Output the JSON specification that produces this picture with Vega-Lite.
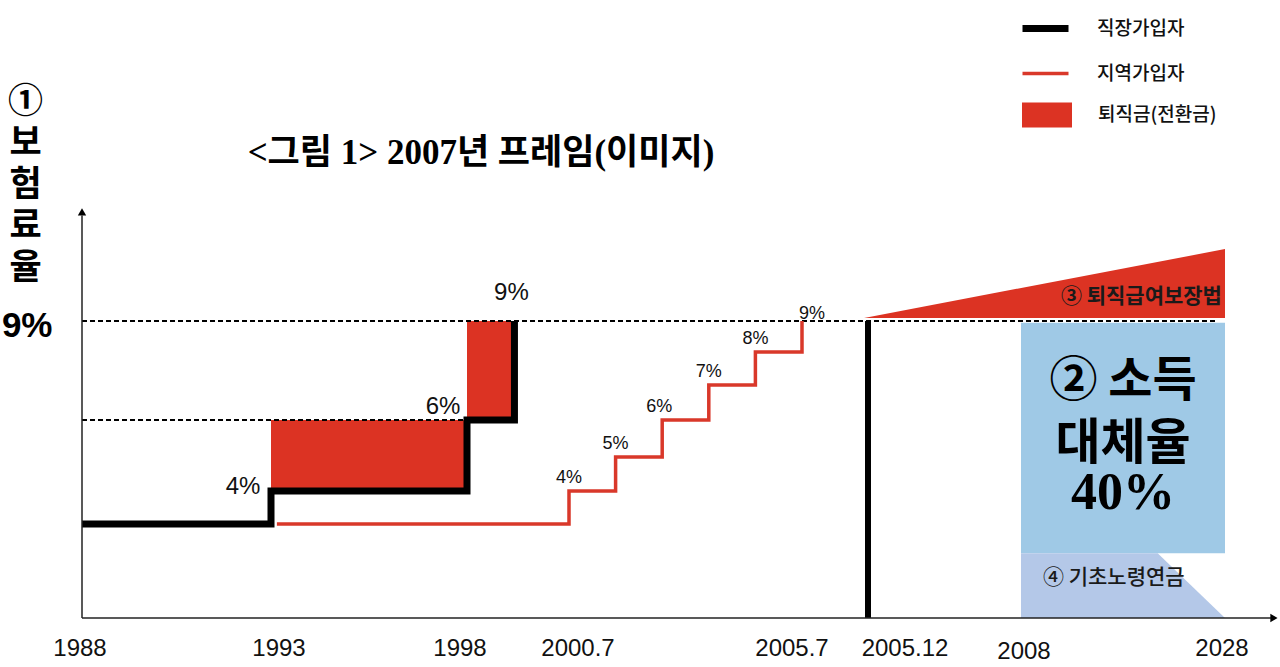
{
  "$schema": "https://vega.github.io/schema/vega-lite/v6.json",
  "width": 1198,
  "height": 618,
  "autosize": {"type": "none"},
  "padding": {"left": 82, "top": 0, "right": 0, "bottom": 49},
  "background": "#ffffff",
  "config": {"view": {"stroke": null}},
  "title": {
    "text": "<그림 1> 2007년 프레임(이미지)",
    "orient": "top",
    "anchor": "middle",
    "frame": "group",
    "font": "Liberation Serif, Noto Sans CJK KR",
    "fontSize": 35,
    "fontWeight": "bold",
    "color": "#000000",
    "offset": 0,
    "baseline": "middle",
    "dx": -200,
    "dy": 188
  },
  "data": {"values": [{}]},
  "datasets": {
    "employee": [
      {"year": 1988, "rate": 3, "order": 1, "series": "직장가입자"},
      {"year": 1993, "rate": 3, "order": 2, "series": "직장가입자"},
      {"year": 1993, "rate": 4, "order": 3, "series": "직장가입자"},
      {"year": 1998, "rate": 4, "order": 4, "series": "직장가입자"},
      {"year": 1998, "rate": 6, "order": 5, "series": "직장가입자"},
      {"year": 1999.2, "rate": 6, "order": 6, "series": "직장가입자"},
      {"year": 1999.2, "rate": 9, "order": 7, "series": "직장가입자"}
    ],
    "regional": [
      {"year": 1993.15, "rate": 3, "order": 1, "series": "지역가입자"},
      {"year": 2000.58, "rate": 3, "order": 2, "series": "지역가입자"},
      {"year": 2000.58, "rate": 4, "order": 3, "series": "지역가입자"},
      {"year": 2001.58, "rate": 4, "order": 4, "series": "지역가입자"},
      {"year": 2001.58, "rate": 5, "order": 5, "series": "지역가입자"},
      {"year": 2002.58, "rate": 5, "order": 6, "series": "지역가입자"},
      {"year": 2002.58, "rate": 6, "order": 7, "series": "지역가입자"},
      {"year": 2003.58, "rate": 6, "order": 8, "series": "지역가입자"},
      {"year": 2003.58, "rate": 7, "order": 9, "series": "지역가입자"},
      {"year": 2004.58, "rate": 7, "order": 10, "series": "지역가입자"},
      {"year": 2004.58, "rate": 8, "order": 11, "series": "지역가입자"},
      {"year": 2005.58, "rate": 8, "order": 12, "series": "지역가입자"},
      {"year": 2005.58, "rate": 9, "order": 13, "series": "지역가입자"}
    ],
    "severance": [
      {"year": 1993, "year2": 1998, "rate": 4, "rate2": 6, "kind": "퇴직금(전환금)"},
      {"year": 1998, "year2": 1999.2, "rate": 6, "rate2": 9, "kind": "퇴직금(전환금)"}
    ],
    "empLabels": [
      {"year": 1993, "rate": 4, "label": "4%"},
      {"year": 1998, "rate": 6, "label": "6%"},
      {"year": 1999.2, "rate": 9, "label": "9%"}
    ],
    "regLabels": [
      {"year": 2000.58, "rate": 4, "label": "4%"},
      {"year": 2001.58, "rate": 5, "label": "5%"},
      {"year": 2002.58, "rate": 6, "label": "6%"},
      {"year": 2003.58, "rate": 7, "label": "7%"},
      {"year": 2004.58, "rate": 8, "label": "8%"},
      {"year": 2005.58, "rate": 9, "label": "9%"}
    ],
    "xLabels": [
      {"year": 1988, "label": "1988"},
      {"year": 1993, "label": "1993"},
      {"year": 1998, "label": "1998"},
      {"year": 2000.58, "label": "2000.7"},
      {"year": 2005.58, "label": "2005.7"},
      {"year": 2005.92, "label": "2005.12"},
      {"year": 2008, "label": "2008"},
      {"year": 2028, "label": "2028"}
    ],
    "retirementAct": [
      {"year": 2005.9, "rate": 9.1, "base": 9.1},
      {"year": 2028, "rate": 11.32, "base": 9.1}
    ],
    "basicPension": [
      {"year": 2008, "rate": 2.07},
      {"year": 2021.4, "rate": 2.07},
      {"year": 2028, "rate": 0}
    ]
  },
  "encoding": {
    "x": {
      "type": "quantitative",
      "scale": {
        "domain": [1988, 1993, 1998, 2000.58, 2005.58, 2005.92, 2008, 2028],
        "range": [0, 189, 385, 487, 720, 786, 939, 1143],
        "nice": false,
        "zero": false
      },
      "axis": null
    },
    "y": {
      "type": "quantitative",
      "scale": {
        "domain": [0, 3, 4, 5, 6, 7, 8, 9],
        "range": [618, 524, 491, 457, 420, 385, 352, 321],
        "nice": false,
        "zero": false
      },
      "axis": {
        "values": [9],
        "labelExpr": "'9%'",
        "domain": false,
        "ticks": false,
        "grid": false,
        "labelFont": "Liberation Sans",
        "labelFontSize": 35,
        "labelFontWeight": "bold",
        "labelColor": "#000000",
        "labelPadding": 30,
        "labelOffset": 4,
        "title": ["①", "보", "험", "료", "율"],
        "titleAngle": 0,
        "titleX": -57,
        "titleY": 84,
        "titleAlign": "center",
        "titleBaseline": "top",
        "titleFont": "Noto Sans CJK KR",
        "titleFontSize": 35,
        "titleFontWeight": "bold",
        "titleLineHeight": 41.5,
        "titleColor": "#000000"
      }
    }
  },
  "layer": [
    {
      "data": {"name": "severance"},
      "mark": {"type": "rect", "opacity": 1},
      "encoding": {
        "x": {"field": "year"},
        "x2": {"field": "year2"},
        "y": {"field": "rate"},
        "y2": {"field": "rate2"},
        "fill": {
          "field": "kind",
          "type": "nominal",
          "scale": {"domain": ["퇴직금(전환금)"], "range": ["#dc3323"]},
          "legend": {
            "orient": "none",
            "legendX": 940,
            "legendY": 90,
            "title": null,
            "padding": 0,
            "symbolType": "M-1,-0.5H1V0.5H-1Z",
            "symbolSize": 2500,
            "symbolStrokeWidth": 0,
            "symbolOpacity": 1,
            "labelFont": "Noto Sans CJK KR",
            "labelFontSize": 19,
            "labelFontWeight": 500,
            "labelColor": "#111111",
            "labelOffset": 26
          }
        }
      }
    },
    {
      "mark": {"type": "rule", "strokeDash": [5, 3], "strokeWidth": 2, "color": "#000000"},
      "encoding": {
        "x": {"datum": 1988},
        "x2": {"datum": 2027.3},
        "y": {"datum": 9}
      }
    },
    {
      "mark": {"type": "rule", "strokeDash": [5, 3], "strokeWidth": 2, "color": "#000000"},
      "encoding": {
        "x": {"datum": 1988},
        "x2": {"datum": 1998},
        "y": {"datum": 6}
      }
    },
    {
      "data": {"name": "retirementAct"},
      "mark": {"type": "area", "color": "#dc3323", "opacity": 1},
      "encoding": {
        "x": {"field": "year"},
        "y": {"field": "rate"},
        "y2": {"field": "base"}
      }
    },
    {
      "mark": {"type": "rect", "color": "#9fc9e6", "opacity": 1},
      "encoding": {
        "x": {"datum": 2008},
        "x2": {"datum": 2028},
        "y": {"datum": 8.94},
        "y2": {"datum": 2.07}
      }
    },
    {
      "data": {"name": "basicPension"},
      "mark": {"type": "area", "color": "#b4c8e8", "opacity": 1},
      "encoding": {
        "x": {"field": "year"},
        "y": {"field": "rate"},
        "y2": {"datum": 0}
      }
    },
    {
      "mark": {"type": "rule", "strokeWidth": 6, "color": "#000000"},
      "encoding": {
        "x": {"datum": 2005.92},
        "y": {"datum": 0},
        "y2": {"datum": 9}
      }
    },
    {
      "data": {"name": "employee"},
      "mark": {"type": "line", "strokeWidth": 7, "strokeJoin": "miter", "strokeCap": "butt"},
      "encoding": {
        "x": {"field": "year"},
        "y": {"field": "rate"},
        "order": {"field": "order"},
        "stroke": {
          "field": "series",
          "type": "nominal",
          "scale": {"domain": ["직장가입자", "지역가입자"], "range": ["#000000", "#d9382a"]},
          "legend": {
            "orient": "none",
            "legendX": 954,
            "legendY": 19,
            "title": null,
            "padding": 0,
            "rowPadding": 21,
            "symbolType": "stroke",
            "symbolSize": 2116,
            "symbolStrokeWidth": 7,
            "labelFont": "Noto Sans CJK KR",
            "labelFontSize": 19,
            "labelFontWeight": 500,
            "labelColor": "#111111",
            "labelOffset": 42,
            "encode": {
              "symbols": {
                "update": {
                  "strokeWidth": {"signal": "datum.value === '지역가입자' ? 3.5 : 7"}
                }
              }
            }
          }
        }
      }
    },
    {
      "data": {"name": "regional"},
      "mark": {"type": "line", "strokeWidth": 3.5, "strokeJoin": "miter", "strokeCap": "butt"},
      "encoding": {
        "x": {"field": "year"},
        "y": {"field": "rate"},
        "order": {"field": "order"},
        "stroke": {
          "field": "series",
          "type": "nominal",
          "scale": {"domain": ["직장가입자", "지역가입자"], "range": ["#000000", "#d9382a"]}
        }
      }
    },
    {
      "mark": {"type": "rule", "strokeWidth": 1.5, "color": "#222222"},
      "encoding": {
        "x": {"datum": 1988},
        "y": {"datum": 0},
        "y2": {"datum": 12.4}
      }
    },
    {
      "mark": {"type": "rule", "strokeWidth": 1.5, "color": "#222222"},
      "encoding": {
        "x": {"datum": 1988},
        "x2": {"datum": 2032.5},
        "y": {"datum": 0}
      }
    },
    {
      "mark": {"type": "point", "shape": "triangle-up", "filled": true, "size": 70, "color": "#000000", "opacity": 1},
      "encoding": {
        "x": {"datum": 1988},
        "y": {"datum": 12.52}
      }
    },
    {
      "mark": {"type": "point", "shape": "triangle-right", "filled": true, "size": 70, "color": "#000000", "opacity": 1},
      "encoding": {
        "x": {"datum": 2032.8},
        "y": {"datum": 0}
      }
    },
    {
      "data": {"name": "xLabels"},
      "mark": {
        "type": "text",
        "font": "Liberation Sans",
        "fontSize": 24,
        "color": "#111111",
        "align": "center",
        "baseline": "middle",
        "dx": {"expr": "datum.label === '1988' ? -2 : datum.label === '1993' ? 8 : datum.label === '1998' ? -7 : datum.label === '2000.7' ? 9 : datum.label === '2005.7' ? -10 : datum.label === '2005.12' ? 37 : datum.label === '2008' ? 3 : -3"},
        "dy": {"expr": "datum.label === '2008' ? 3 : 0"}
      },
      "encoding": {
        "x": {"field": "year"},
        "y": {"datum": -0.99},
        "text": {"field": "label"}
      }
    },
    {
      "data": {"name": "empLabels"},
      "mark": {
        "type": "text",
        "font": "Liberation Sans",
        "fontSize": 24,
        "color": "#111111",
        "align": "center",
        "baseline": "middle",
        "dx": {"expr": "datum.label === '4%' ? -28 : datum.label === '6%' ? -24 : -3"},
        "dy": {"expr": "datum.label === '4%' ? -4 : datum.label === '6%' ? -13 : -28"}
      },
      "encoding": {
        "x": {"field": "year"},
        "y": {"field": "rate"},
        "text": {"field": "label"}
      }
    },
    {
      "data": {"name": "regLabels"},
      "mark": {
        "type": "text",
        "font": "Liberation Sans",
        "fontSize": 18,
        "color": "#111111",
        "align": "center",
        "baseline": "middle",
        "dx": {"expr": "datum.label === '9%' ? 10 : datum.label === '6%' ? -3 : 0"},
        "dy": {"expr": "datum.label === '9%' ? -7 : -13"}
      },
      "encoding": {
        "x": {"field": "year"},
        "y": {"field": "rate"},
        "text": {"field": "label"}
      }
    },
    {
      "mark": {"type": "text", "font": "Noto Sans CJK KR", "fontSize": 21, "fontWeight": "bold", "color": "#1a1a1a", "align": "right", "baseline": "middle"},
      "encoding": {
        "x": {"datum": 2027.7},
        "y": {"datum": 9.77},
        "text": {"value": "③ 퇴직급여보장법"}
      }
    },
    {
      "mark": {"type": "text", "font": "Noto Sans CJK KR", "fontSize": 48, "fontWeight": "bold", "color": "#000000", "align": "center", "baseline": "middle"},
      "encoding": {
        "x": {"datum": 2018},
        "y": {"datum": 7.1},
        "text": {"value": "② 소득"}
      }
    },
    {
      "mark": {"type": "text", "font": "Noto Sans CJK KR", "fontSize": 49, "fontWeight": "bold", "color": "#000000", "align": "center", "baseline": "middle"},
      "encoding": {
        "x": {"datum": 2018},
        "y": {"datum": 5.36},
        "text": {"value": "대체율"}
      }
    },
    {
      "mark": {"type": "text", "font": "Liberation Serif", "fontSize": 52, "fontWeight": "bold", "color": "#000000", "align": "center", "baseline": "middle"},
      "encoding": {
        "x": {"datum": 2018},
        "y": {"datum": 3.95},
        "text": {"value": "40%"}
      }
    },
    {
      "mark": {"type": "text", "font": "Noto Sans CJK KR", "fontSize": 21, "fontWeight": 500, "color": "#1a1a1a", "align": "center", "baseline": "middle"},
      "encoding": {
        "x": {"datum": 2017.1},
        "y": {"datum": 1.28},
        "text": {"value": "④ 기초노령연금"}
      }
    }
  ]
}
